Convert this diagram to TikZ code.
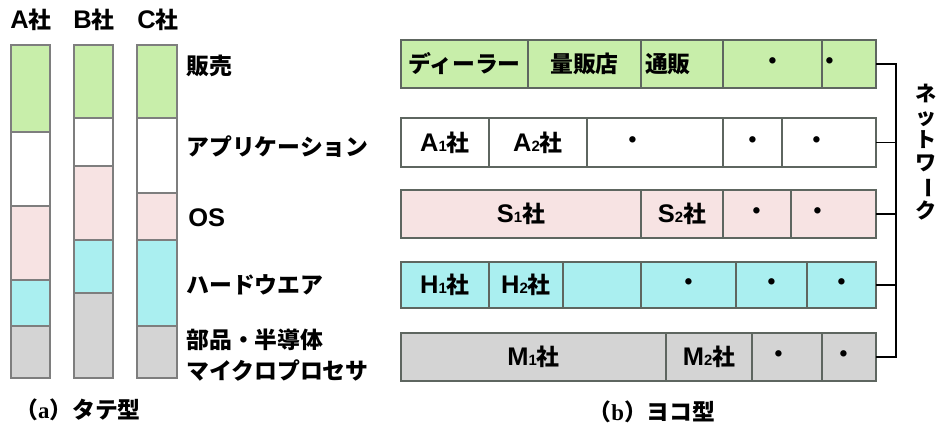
\documentclass[tikz,border=0pt]{standalone}
\usepackage{fontspec}
\usepackage{graphicx}
\setmainfont{Noto Sans CJK JP}
\newfontfamily\serifa{Liberation Serif}[BoldFont={Liberation Serif Bold}]
\newfontfamily\latf{Liberation Sans}[BoldFont={Liberation Sans Bold}]
\newcommand\lat{\latf\bfseries\fontsize{14.5pt}{15pt}\selectfont}
\definecolor{cgreen}{HTML}{C8EEAA}
\definecolor{cpink}{HTML}{F7E3E3}
\definecolor{ccyan}{HTML}{AAEFF0}
\definecolor{cgray}{HTML}{D4D4D4}
\definecolor{cwhite}{HTML}{FFFFFF}
\definecolor{rowline}{HTML}{5E6660}
\definecolor{colline}{HTML}{7E7E7E}
% x1 x2 y1 y2 fill text name
\newcommand\mycell[7]{\node[cell,fill=#5,minimum width={(#2-#1)*0.02cm},minimum height={(#4-#3)*0.02cm}] (#7) at ({(#1+#2)/2},{(#3+#4)/2}) {#6};}
\newcommand\colcell[5]{\node[ccell,fill=#5,minimum width={(#2-#1)*0.02cm},minimum height={(#4-#3)*0.02cm}] (#1-#3) at ({(#1+#2)/2},{(#3+#4)/2}) {};}
\newcommand\shdot[1]{\kern-#1\dimexpr1.138pt\relax ・}
\newcommand\co[2]{{\lat #1}{\latf\bfseries\fontsize{8.5pt}{8pt}\selectfont #2}社}
\begin{document}
\begin{tikzpicture}[x=0.02cm,y=-0.02cm,
  cell/.style={draw=rowline,line width=0.8pt,inner sep=0pt,outer sep=0pt,font=\fontsize{13pt}{15pt}\selectfont\bfseries},
  ccell/.style={draw=colline,line width=0.8pt,inner sep=0pt,outer sep=0pt},
  lab/.style={font=\fontsize{13pt}{15pt}\selectfont\bfseries,inner sep=0pt},
  conn/.style={line width=1.1pt,black}]
\useasboundingbox (0,0) rectangle (940,430);
% vertical columns
\colcell{11}{50}{45}{132}{cgreen}
\colcell{11}{50}{132}{206}{cwhite}
\colcell{11}{50}{206}{280}{cpink}
\colcell{11}{50}{280}{326}{ccyan}
\colcell{11}{50}{326}{378}{cgray}
\colcell{74}{113}{45}{118}{cgreen}
\colcell{74}{113}{118}{166}{cwhite}
\colcell{74}{113}{166}{240}{cpink}
\colcell{74}{113}{240}{293}{ccyan}
\colcell{74}{113}{293}{378}{cgray}
\colcell{137}{177}{45}{118}{cgreen}
\colcell{137}{177}{118}{193}{cwhite}
\colcell{137}{177}{193}{240}{cpink}
\colcell{137}{177}{240}{326}{ccyan}
\colcell{137}{177}{326}{378}{cgray}
\node[lab] (hA) at (31,20) {{\lat A}社};
\node[lab] (hB) at (94,20) {{\lat B}社};
\node[lab] (hC) at (158,20) {{\lat C}社};
% layer labels
\node[lab,anchor=west] (l1) at (186,66) {販売};
\node[lab,anchor=west] (l2) at (186,147) {アプリケーション};
\node[lab,anchor=west] (l3) at (188,218) {\lat OS};
\node[lab,anchor=west] (l4) at (186,285) {ハードウエア};
\node[lab,anchor=west] (l5) at (186,340) {部品・半導体};
\node[lab,anchor=west] (l6) at (186,370) {マイクロプロセサ};
% horizontal rows
\mycell{401}{528}{40}{88}{cgreen}{ディーラー}{r1a}
\mycell{528}{641}{40}{88}{cgreen}{量販店}{r1b}
\mycell{641}{723}{40}{88}{cgreen}{\kern-16pt 通販}{r1c}
\mycell{723}{822}{40}{88}{cgreen}{・}{r1d}
\mycell{822}{876}{40}{88}{cgreen}{\shdot{19}}{r1e}
\mycell{401}{489}{118}{167}{cwhite}{\co{A}{1}}{r2a}
\mycell{489}{587}{118}{167}{cwhite}{\co{A}{2}}{r2b}
\mycell{587}{723}{118}{167}{cwhite}{\shdot{22}}{r2c}
\mycell{723}{782}{118}{167}{cwhite}{・}{r2d}
\mycell{782}{876}{118}{167}{cwhite}{\shdot{12}}{r2e}
\mycell{401}{641}{190}{238}{cpink}{\co{S}{1}}{r3a}
\mycell{641}{723}{190}{238}{cpink}{\co{S}{2}}{r3b}
\mycell{723}{791}{190}{238}{cpink}{・}{r3c}
\mycell{791}{876}{190}{238}{cpink}{\shdot{16}}{r3e}
\mycell{401}{489}{262}{308}{ccyan}{\co{H}{1}}{r4a}
\mycell{489}{563}{262}{308}{ccyan}{\co{H}{2}}{r4b}
\mycell{563}{641}{262}{308}{ccyan}{}{r4c}
\mycell{641}{736}{262}{308}{ccyan}{・}{r4d}
\mycell{736}{807}{262}{308}{ccyan}{・}{r4f}
\mycell{807}{876}{262}{308}{ccyan}{・}{r4e}
\mycell{401}{666}{333}{381}{cgray}{\co{M}{1}}{r5a}
\mycell{666}{752}{333}{381}{cgray}{\co{M}{2}}{r5b}
\mycell{752}{822}{333}{381}{cgray}{\shdot{8}}{r5c}
\mycell{822}{876}{333}{381}{cgray}{\shdot{5}}{r5e}
% network bracket
\coordinate (bx) at (896,0);
\draw[conn] (r1e.east) -- (r1e.east -| bx) -- (r5e.east -| bx) -- (r5e.east);
\draw[conn] (r2e.east) -- (r2e.east -| bx);
\draw[conn] (r3e.east) -- (r3e.east -| bx);
\draw[conn] (r4e.east) -- (r4e.east -| bx);
\node[lab,align=center,font=\fontsize{12pt}{13pt}\selectfont\bfseries] (net) at (926,152) {ネ\\ッ\\ト\\ワ\\\rotatebox[origin=c]{-90}{ー}\\ク};
% captions
\node[lab] (capa) at (78,410) {（{\serifa\bfseries a}）タテ型};
\node[lab] (capb) at (652,412) {（{\serifa\bfseries b}）ヨコ型};
\end{tikzpicture}
\end{document}
